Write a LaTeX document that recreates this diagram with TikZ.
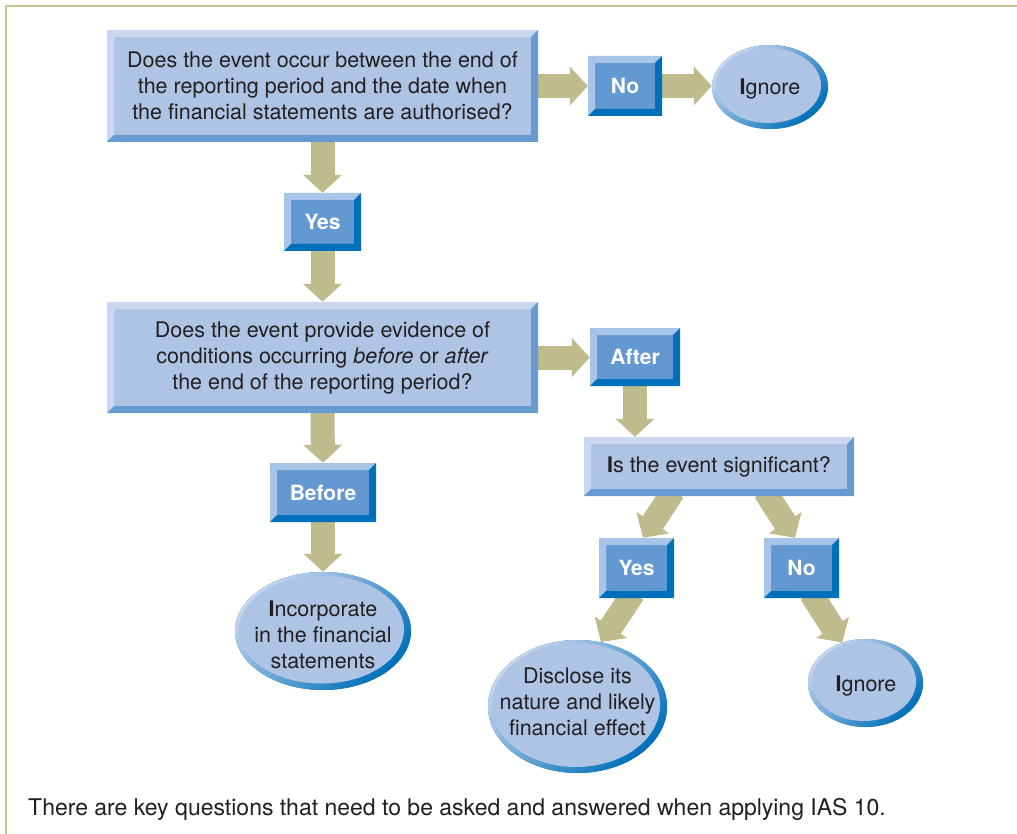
\documentclass[tikz,border=0pt]{standalone}
\usepackage{fontspec}
\setmainfont{TeX Gyre Heros}
\usetikzlibrary{arrows.meta,shapes.geometric,calc}

\definecolor{ink}{RGB}{35,31,32}
\definecolor{face}{RGB}{174,196,228}
\definecolor{facelight}{RGB}{201,216,239}
\definecolor{facedark}{RGB}{104,154,210}
\definecolor{tabface}{RGB}{100,152,208}
\definecolor{tablight}{RGB}{168,196,232}
\definecolor{tabdark}{RGB}{0,112,186}
\definecolor{ringlight}{RGB}{200,214,238}
\definecolor{ringdark}{RGB}{0,112,186}
\definecolor{arrowc}{RGB}{190,187,140}
\definecolor{framec}{RGB}{200,196,142}

\pgfdeclarelayer{bg}
\pgfsetlayers{bg,main}

\tikzset{
  % rectangle with a 7pt bevel: light top/left, dark right/bottom
  bevel/.style n args={3}{
    shape=rectangle, inner sep=0pt, fill=#1,
    path picture={
      \coordinate (p1) at (path picture bounding box.north west);
      \coordinate (p2) at (path picture bounding box.north east);
      \coordinate (p3) at (path picture bounding box.south east);
      \coordinate (p4) at (path picture bounding box.south west);
      \fill[#2] (p1) -- (p2) -- ([shift={(-7pt,-7pt)}]p2) -- ([shift={(7pt,-7pt)}]p1) -- cycle;
      \fill[#2] (p1) -- (p4) -- ([shift={(7pt,7pt)}]p4) -- ([shift={(7pt,-7pt)}]p1) -- cycle;
      \fill[#3] (p2) -- (p3) -- ([shift={(-7pt,7pt)}]p3) -- ([shift={(-7pt,-7pt)}]p2) -- cycle;
      \fill[#3] (p4) -- (p3) -- ([shift={(-7pt,7pt)}]p3) -- ([shift={(7pt,7pt)}]p4) -- cycle;
    }
  },
  % ellipse with a shaded rim, thicker towards the lower right
  ring/.style 2 args={
    shape=ellipse, inner sep=0pt, fill=ringdark,
    path picture={
      \shade[top color=ringlight, bottom color=ringdark, shading angle=45]
        (path picture bounding box.south west) rectangle (path picture bounding box.north east);
      \fill[face] ([shift={(-1.5pt,1.5pt)}]path picture bounding box.center)
        ellipse [x radius=#1, y radius=#2];
    }
  },
  txt/.style={font=\fontsize{21.5}{26}\selectfont, text=ink, align=center},
  qbox/.style={bevel={face}{facelight}{facedark}, txt},
  tab/.style={bevel={tabface}{tablight}{tabdark},
    font=\fontsize{21}{25}\selectfont\bfseries, text=white},
  fat/.style={draw=arrowc, line width=24pt,
    -{Triangle[width=38pt,length=18pt]}, shorten <=-6pt},
  frame/.style={draw=framec, line width=2.5pt}
}

\begin{document}
\begin{tikzpicture}[x=1pt,y=-1pt]
  \useasboundingbox (0,0) rectangle (1017,834);
  \draw[frame] (6,840) -- (6,6) -- (1020,6);

  % first question
  \node[qbox, minimum width=431pt, minimum height=112pt] (q1) at (322.5,86)
    {Does the event occur between the end of\\the reporting period and the date when\\the financial statements are authorised?};
  \node[tab, minimum width=74pt, minimum height=60pt] (no1) at (625,86) {No};
  \node[ring={52.5pt}{37.5pt}, minimum width=116pt, minimum height=84pt] (ign1) at (770,87) {};
  \node[txt] (ign1-t) at (770,89) {\textbf{I}gnore};
  \node[tab, minimum width=77pt, minimum height=58pt] (yes1) at (322.5,222) {Yes};

  % second question
  \node[qbox, minimum width=431pt, minimum height=111pt] (q2) at (322.5,357.5)
    {Does the event provide evidence of\\conditions occurring \textit{before} or \textit{after}\\the end of the reporting period?};
  \node[tab, minimum width=90pt, minimum height=58pt] (after) at (635,357) {After};
  \node[tab, minimum width=106pt, minimum height=59pt] (before) at (323,492.5) {Before};
  \node[ring={82.5pt}{54pt}, minimum width=176pt, minimum height=118pt] (inc) at (323,631) {};
  \node[txt] (inc-t) at (323,634.5) {\textbf{I}ncorporate\\in the financial\\statements};

  % third question
  \node[qbox, minimum width=270pt, minimum height=59pt] (q3) at (719,466.5)
    {\textbf{I}s the event significant?};
  \node[tab, minimum width=75pt, minimum height=60pt] (yes2) at (636.5,568) {Yes};
  \node[tab, minimum width=75pt, minimum height=60pt] (no2) at (801.5,568) {No};
  \node[ring={84pt}{62pt}, minimum width=179pt, minimum height=133pt] (disc) at (577.5,706.5) {};
  \node[txt] (disc-t) at (577.5,702) {Disclose its\\nature and likely\\financial effect};
  \node[ring={52pt}{39.5pt}, minimum width=115pt, minimum height=88pt] (ign2) at (865.5,683) {};
  \node[txt] (ign2-t) at (866,686) {\textbf{I}gnore};

  \node[txt, font=\fontsize{23}{27}\selectfont, anchor=base west, inner sep=0pt] (caption) at (28,815)
    {There are key questions that need to be asked and answered when applying IAS 10.};

  % white page and block arrows, kept behind the boxes
  \begin{pgfonlayer}{bg}
    \fill[white] (0,0) rectangle (1017,834);
    \draw[fat] (q1.east) -- (no1.west);
    \draw[fat] (no1.east) -- (no1.east -| ign1.west);
    \draw[fat] (q1.south) -- (yes1.north);
    \draw[fat] (yes1.south) -- (q2.north);
    \draw[fat] (q2.east) -- (q2.east -| after.west);
    \draw[fat] (after.south) -- (after.south |- q3.north);
    \draw[fat] (q2.south) -- (before.north);
    \draw[fat] (before.south) -- (inc.north);
    \draw[fat] ([xshift=-49pt]q3.south) -- ([xshift=6.5pt]yes2.north);
    \draw[fat] ([xshift=49pt]q3.south) -- ([xshift=-6.5pt]no2.north);
    \draw[fat] ([xshift=-6.5pt]yes2.south) -- (disc.70);
    \draw[fat] ([xshift=12.5pt]no2.south) -- (ign2.120);
  \end{pgfonlayer}
\end{tikzpicture}
\end{document}
